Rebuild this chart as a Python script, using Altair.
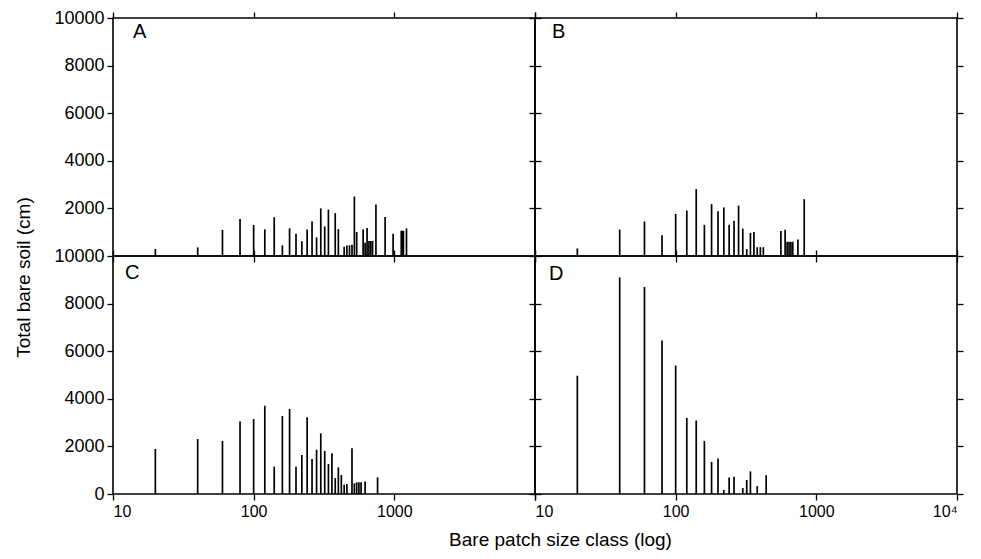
import altair as alt
import pandas as pd

# Panel A
a_size = [20, 40, 60, 80, 100, 120, 140, 160, 180, 200, 220, 240, 260, 280, 300, 320, 340, 380, 400, 440,
          460, 480, 500, 520, 540, 600, 620, 640, 660, 680, 700, 740, 860, 980, 1120, 1140, 1160, 1220]
a_soil = [300, 360, 1100, 1550, 1300, 1120, 1630, 450, 1160, 930, 620, 1110, 1450, 780, 2000, 1240, 1950, 1800, 1130, 390,
          440, 450, 470, 2500, 1010, 1110, 560, 1180, 630, 630, 630, 2160, 1640, 930, 1060, 1060, 1060, 1160]

# Panel B
b_size = [20, 40, 60, 80, 100, 120, 140, 160, 180, 200, 220, 240, 260, 280, 300, 320, 340, 360, 380, 400,
          420, 560, 600, 620, 640, 660, 680, 740, 820]
b_soil = [320, 1110, 1450, 870, 1770, 1910, 2810, 1310, 2180, 1880, 2040, 1310, 1480, 2120, 1150, 290, 970, 1010, 370, 370,
          370, 1050, 1100, 600, 600, 600, 600, 690, 2390]

# Panel C
c_size = [20, 40, 60, 80, 100, 120, 140, 160, 180, 200, 220, 240, 260, 280, 300, 320, 340, 360, 380, 400,
          420, 440, 460, 500, 520, 540, 560, 580, 620, 760]
c_soil = [1890, 2310, 2230, 3050, 3150, 3710, 1150, 3280, 3570, 1150, 1640, 3220, 1470, 1860, 2550, 1810, 1260, 1710, 670, 1120,
          800, 390, 420, 1920, 450, 490, 490, 490, 530, 700]

# Panel D
d_size = [20, 40, 60, 80, 100, 120, 140, 160, 180, 200, 220, 240, 260, 300, 320, 340, 380, 440]
d_soil = [4970, 9100, 8700, 6450, 5400, 3200, 3090, 2230, 1350, 1490, 170, 690, 730, 250, 590, 950, 330, 790]

decades = [10, 100, 1000, 10000]
y_all = [0, 2000, 4000, 6000, 8000, 10000]
y_top = [2000, 4000, 6000, 8000, 10000]

FONT = "Liberation Sans"
W, H = 422, 238

xscale = alt.Scale(type="log", domain=[10, 10000], nice=False)
yscale = alt.Scale(domain=[0, 10000], nice=False, zero=True)


def tick_axis(orient, values, labels=False, title=None, size=16, **kw):
    return alt.Axis(orient=orient, values=values, labels=labels, title=title, domain=False, grid=False,
                    ticks=True, tickSize=6, tickWidth=1.3, tickColor="black", format="d",
                    labelFont=FONT, labelFontSize=size, labelColor="black", labelPadding=3,
                    titleFont=FONT, titleFontSize=19, titleFontWeight="normal", titleColor="black", **kw)


def panel(sizes, soil, letter, lx, ly, left_axis, bottom_axis, right_vals, top_vals):
    df = pd.DataFrame({"size": sizes, "soil": soil})
    bars = alt.Chart(df).mark_rule(color="black", strokeWidth=1.7).encode(
        x=alt.X("size:Q", scale=xscale, axis=bottom_axis),
        y=alt.Y("soil:Q", scale=yscale, axis=left_axis),
        y2=alt.datum(0),
    )
    ghost = alt.Chart(df).mark_point(opacity=0).encode(
        x=alt.X("size:Q", scale=xscale, axis=tick_axis("top", top_vals)),
        y=alt.Y("soil:Q", scale=yscale, axis=tick_axis("right", right_vals)),
    )
    lab = alt.Chart(pd.DataFrame({"t": [letter]})).mark_text(
        font=FONT, fontSize=20, color="black", align="left", baseline="middle"
    ).encode(text="t:N", x=alt.value(lx), y=alt.value(ly))
    return alt.layer(bars, ghost, lab).resolve_axis(x="independent", y="independent").properties(width=W, height=H)


pA = panel(a_size, a_soil, "A", 20, 14,
           tick_axis("left", y_top, labels=True, size=18, title="Total bare soil (cm)", titleX=-80, titleY=259),
           tick_axis("bottom", decades), y_top, decades)
pB = panel(b_size, b_soil, "B", 17, 14,
           tick_axis("left", y_top), tick_axis("bottom", decades), y_top, decades)
pC = panel(c_size, c_soil, "C", 12, 17,
           tick_axis("left", y_all, labels=True, size=18),
           tick_axis("bottom", [10, 100, 1000, 10000], labels=True, title="Bare patch size class (log)",
                     titleX=447, titleY=36, labelExpr="datum.value >= 10000 ? '' : datum.label"),
           y_all, decades)
pD = panel(d_size, d_soil, "D", 14, 18,
           tick_axis("left", y_all),
           tick_axis("bottom", decades, labels=True, labelExpr="datum.value >= 10000 ? '10\u2074' : datum.label"),
           y_all, decades)

chart = alt.concat(pA, pB, pC, pD, columns=2, spacing=0).properties(
    bounds="flush",
    padding={"left": 5, "top": 0, "right": 5, "bottom": 5},
    background="white",
).configure_view(stroke="black", strokeWidth=1.6)

chart.save("out.html", embed_options={"renderer": "svg", "actions": False})
